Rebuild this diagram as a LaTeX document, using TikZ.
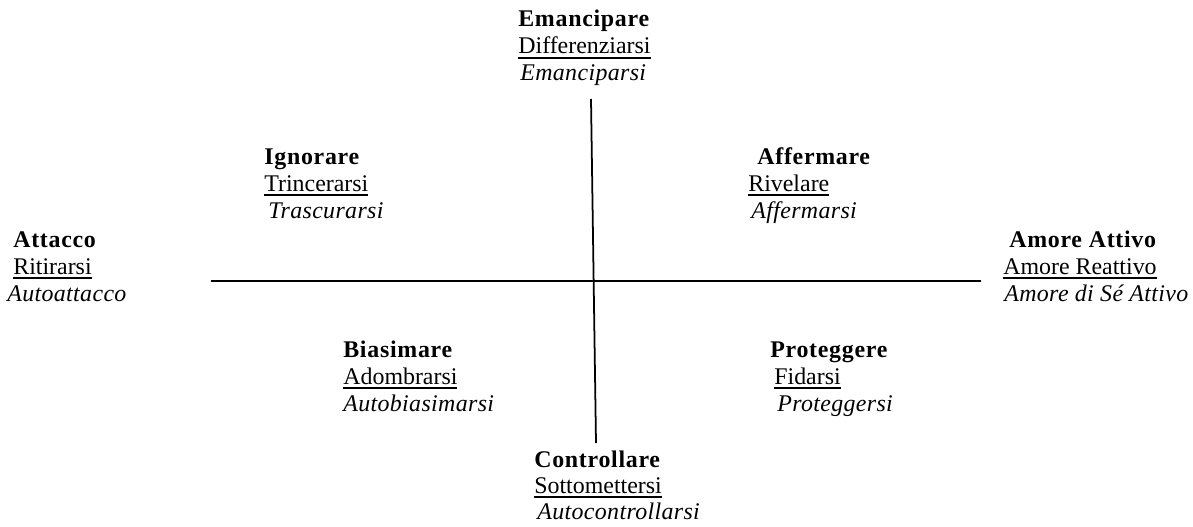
\documentclass[tikz,border=0pt]{standalone}
\usepackage{fontspec}
\setmainfont{Liberation Serif}
\usetikzlibrary{positioning}
\newcommand{\undl}[1]{\setbox0=\hbox{#1}\rlap{\rule[-2.8pt]{\wd0}{1pt}}\box0}

\begin{document}
\begin{tikzpicture}[x=0.02cm,y=-0.02cm,
    word/.style={anchor=base west,inner sep=0pt,font=\fontsize{13.6}{16}\selectfont},
    head/.style={word,font=\fontsize{13.6}{16}\selectfont\bfseries\addfontfeature{LetterSpace=3}},
    self/.style={word,font=\fontsize{13.6}{16}\selectfont\itshape\addfontfeature{LetterSpace=1.5}}]
    \useasboundingbox (0,0) rectangle (1193,527);
    % Axes
    \coordinate (top) at (591,99);
    \coordinate (bottom) at (596,443);
    \coordinate (left) at (211,281);
    \coordinate (right) at (981,281);
    \draw[line width=1pt] (top) -- (bottom);
    \draw[line width=1pt] (left) -- (right);
    % Top
    \node[head] (emancipare) at (518,27) {Emancipare};
    \node[word] (differenziarsi) at (518,54) {\undl{Differenziarsi}};
    \node[self] (emanciparsi) at (520,81) {Emanciparsi};
    % Bottom
    \node[head] (controllare) at (534,467) {Controllare};
    \node[word] (sottomettersi) at (534,493) {\undl{Sottomettersi}};
    \node[self] (autocontrollarsi) at (537,519) {Autocontrollarsi};
    % Left
    \node[head] (attacco) at (13,247) {Attacco};
    \node[word] (ritirarsi) at (13,274) {\undl{Ritirarsi}};
    \node[self] (autoattacco) at (7,301) {Autoattacco};
    % Right
    \node[head] (amoreattivo) at (1009,247) {Amore Attivo};
    \node[word] (amorereattivo) at (1003,274) {\undl{Amore Reattivo}};
    \node[self] (amoredise) at (1004,301) {Amore di Sé Attivo};
    % Upper left
    \node[head] (ignorare) at (264,164) {Ignorare};
    \node[word] (trincerarsi) at (264,191) {\undl{Trincerarsi}};
    \node[self] (trascurarsi) at (268,218) {Trascurarsi};
    % Upper right
    \node[head] (affermare) at (757,164) {Affermare};
    \node[word] (rivelare) at (748,191) {\undl{Rivelare}};
    \node[self] (affermarsi) at (751,218) {Affermarsi};
    % Lower left
    \node[head] (biasimare) at (343,357) {Biasimare};
    \node[word] (adombrarsi) at (343,384) {\undl{Adombrarsi}};
    \node[self] (autobiasimarsi) at (343,411) {Autobiasimarsi};
    % Lower right
    \node[head] (proteggere) at (770,357) {Proteggere};
    \node[word] (fidarsi) at (774,384) {\undl{Fidarsi}};
    \node[self] (proteggersi) at (777,411) {Proteggersi};
\end{tikzpicture}
\end{document}
